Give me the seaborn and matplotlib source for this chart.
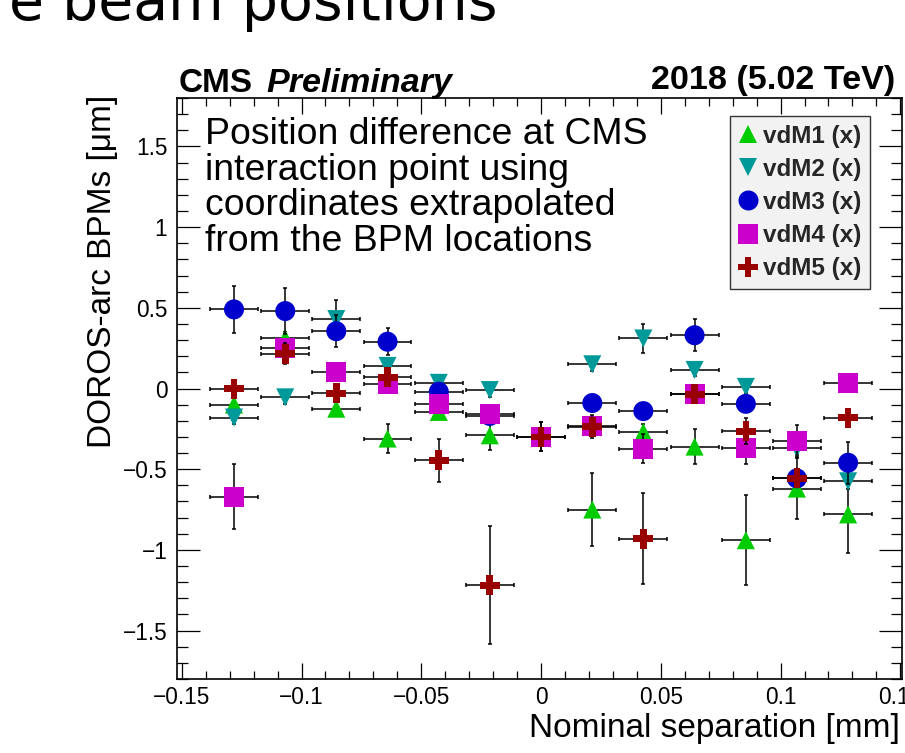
import numpy as np
import pandas as pd
import matplotlib
matplotlib.use("Agg")
import matplotlib.pyplot as plt
from matplotlib.lines import Line2D
from matplotlib.ticker import FixedLocator, MultipleLocator, FuncFormatter
from matplotlib.font_manager import FontProperties
import seaborn as sns

# ---- data -------------------------------------------------------------
sep = [-0.1282, -0.1068, -0.0855, -0.0641, -0.0427, -0.0214, 0.0,
       0.0214, 0.0427, 0.0641, 0.0855, 0.1068, 0.1282]
sep_err = [0.01] * 13

nan = np.nan
vdm1 = [-0.10, 0.31, -0.125, -0.31, -0.145, -0.29, nan, -0.75, -0.27, -0.36, -0.94, -0.62, -0.78]
vdm1_err = [0.04, 0.04, 0.04, 0.09, 0.04, 0.09, nan, 0.225, 0.05, 0.11, 0.28, 0.19, 0.24]

vdm2 = [-0.18, -0.055, 0.43, 0.14, 0.035, -0.01, nan, 0.15, 0.31, 0.115, 0.01, -0.37, -0.575]
vdm2_err = [0.04, 0.04, 0.12, 0.04, 0.04, 0.04, nan, 0.04, 0.09, 0.04, 0.04, 0.04, 0.05]

vdm3 = [0.49, 0.48, 0.355, 0.29, -0.02, -0.17, nan, -0.09, -0.14, 0.33, -0.095, -0.557, -0.46]
vdm3_err = [0.145, 0.145, 0.10, 0.085, 0.04, 0.04, nan, 0.04, 0.04, 0.10, 0.04, 0.05, 0.13]

vdm4 = [-0.67, 0.25, 0.10, 0.03, -0.095, -0.158, -0.30, -0.235, -0.373, -0.037, -0.37, -0.327, 0.035]
vdm4_err = [0.20, 0.04, 0.04, 0.04, 0.04, 0.04, 0.09, 0.05, 0.09, 0.04, 0.10, 0.10, 0.04]

vdm5 = [0.0, 0.215, -0.03, 0.07, -0.445, -1.22, -0.30, -0.236, -0.93, -0.037, -0.265, -0.557, -0.18]
vdm5_err = [0.04, 0.065, 0.04, 0.04, 0.135, 0.365, 0.09, 0.07, 0.28, 0.04, 0.08, 0.05, 0.04]

labels = ["vdM1 (x)", "vdM2 (x)", "vdM3 (x)", "vdM4 (x)", "vdM5 (x)"]
colors = ["#00cc00", "#009999", "#0000cc", "#cc00cc", "#990000"]
markers = ["^", "v", "o", "s", "P"]
msizes = [13.0, 13.0, 14.4, 14.4, 14.4]

xticks = [-0.15, -0.1, -0.05, 0.0, 0.05, 0.1, 0.15]
yticks = [-1.5, -1.0, -0.5, 0.0, 0.5, 1.0, 1.5]

# ---- figure -----------------------------------------------------------
sns.set_theme(style="ticks")
plt.rcParams["font.family"] = ["Liberation Sans", "DejaVu Sans"]

W, H = 905, 753
fig = plt.figure(figsize=(W / 100, H / 100), dpi=100)
fig.patch.set_facecolor("white")

L, R, T, B = 177, 902, 98, 679
ax = fig.add_axes([L / W, 1 - B / H, (R - L) / W, (B - T) / H])
ax.set_facecolor("white")


def ax_x(px):
    return (px - L) / (R - L)


def ax_y(py):
    return (B - py) / (B - T)


series = [vdm1, vdm2, vdm3, vdm4, vdm5]
errs = [vdm1_err, vdm2_err, vdm3_err, vdm4_err, vdm5_err]

for i, (y, ye, c, m, ms) in enumerate(zip(series, errs, colors, markers, msizes)):
    z = 3 + 2 * i
    ax.errorbar(sep, y, xerr=sep_err, yerr=ye, fmt="none", ecolor="black",
                elinewidth=1.1, capsize=1.6, capthick=1.1, zorder=z)
    df = pd.DataFrame({"sep": sep, "val": y}).dropna()
    sns.scatterplot(data=df, x="sep", y="val", marker=m, color=c, s=ms ** 2,
                    linewidth=0, edgecolor="none", ax=ax, zorder=z + 1, legend=False)

ax.set_xlim(-0.152, 0.1507)
ax.set_ylim(-1.8, 1.8)


def root_fmt(v, pos=None):
    s = f"{round(v, 4):g}"
    if s in ("-0", "0"):
        return "0"
    return s.replace("-", "\u2212")


ax.xaxis.set_major_locator(FixedLocator(xticks))
ax.xaxis.set_minor_locator(MultipleLocator(0.01))
ax.yaxis.set_major_locator(FixedLocator(yticks))
ax.yaxis.set_minor_locator(MultipleLocator(0.1))
ax.xaxis.set_major_formatter(FuncFormatter(root_fmt))
ax.yaxis.set_major_formatter(FuncFormatter(root_fmt))

ax.tick_params(axis="both", which="both", direction="in", top=True, right=True,
               color="black", width=0.9, labelsize=16.3, labelcolor="black")
ax.tick_params(axis="y", which="major", length=16.5, pad=7)
ax.tick_params(axis="y", which="minor", length=8)
ax.tick_params(axis="x", which="major", length=11.5, pad=5)
ax.tick_params(axis="x", which="minor", length=5.8)
for sp in ax.spines.values():
    sp.set_visible(True)
    sp.set_color("black")
    sp.set_linewidth(1.2)

ax.set_xlabel("Nominal separation [mm]", fontsize=24, color="black", loc="right")
ax.xaxis.label.set_verticalalignment("baseline")
ax.xaxis.set_label_coords(0.997, ax_y(737))

ax.set_ylabel("DOROS-arc BPMs [\u03bcm]", fontsize=24, color="black", loc="top")
ax.yaxis.set_label_coords(ax_x(118), 1.005)

# header texts
ax.text(ax_x(179), ax_y(92), "CMS", transform=ax.transAxes, fontsize=24,
        fontweight="bold", va="baseline", ha="left", color="black")
ax.text(ax_x(266), ax_y(92), "Preliminary", transform=ax.transAxes,
        fontsize=24.6, fontweight="bold", fontstyle="italic", va="baseline", ha="left",
        color="black")
ax.text(ax_x(895), ax_y(89), "2018 (5.02 TeV)", transform=ax.transAxes,
        fontsize=24.6, fontweight="bold", va="baseline", ha="right", color="black")

note_lines = ["Position difference at CMS", "interaction point using",
              "coordinates extrapolated", "from the BPM locations"]
for k, line in enumerate(note_lines):
    base = 144 + 35.7 * k
    ax.text(ax_x(205), ax_y(base), line, transform=ax.transAxes,
            fontsize=26.9, va="baseline", ha="left", color="black", zorder=20)

# legend
handles = [Line2D([], [], marker=m, color=c, linestyle="none", markersize=ms,
                  markeredgewidth=0)
           for c, m, ms in zip(colors, markers, msizes)]
leg = ax.legend(handles, labels, loc="upper left",
                bbox_to_anchor=(ax_x(730), ax_y(116)),
                frameon=True, fancybox=False, edgecolor="#333333", facecolor="#f2f2f2",
                framealpha=1,
                prop=FontProperties(family="Liberation Sans", weight="bold", size=17.5),
                handlelength=0.8, handletextpad=0.2, labelspacing=0.42, borderpad=0.35,
                borderaxespad=0)
leg.get_frame().set_linewidth(1.0)
leg.set_zorder(30)

# slide title fragment along the top edge
fig.text(9 / W, 1 - 20 / H, "e beam positions", fontsize=41, family="DejaVu Sans",
         va="baseline", ha="left", color="black")

fig.savefig("out.png", dpi=100, facecolor="white")
